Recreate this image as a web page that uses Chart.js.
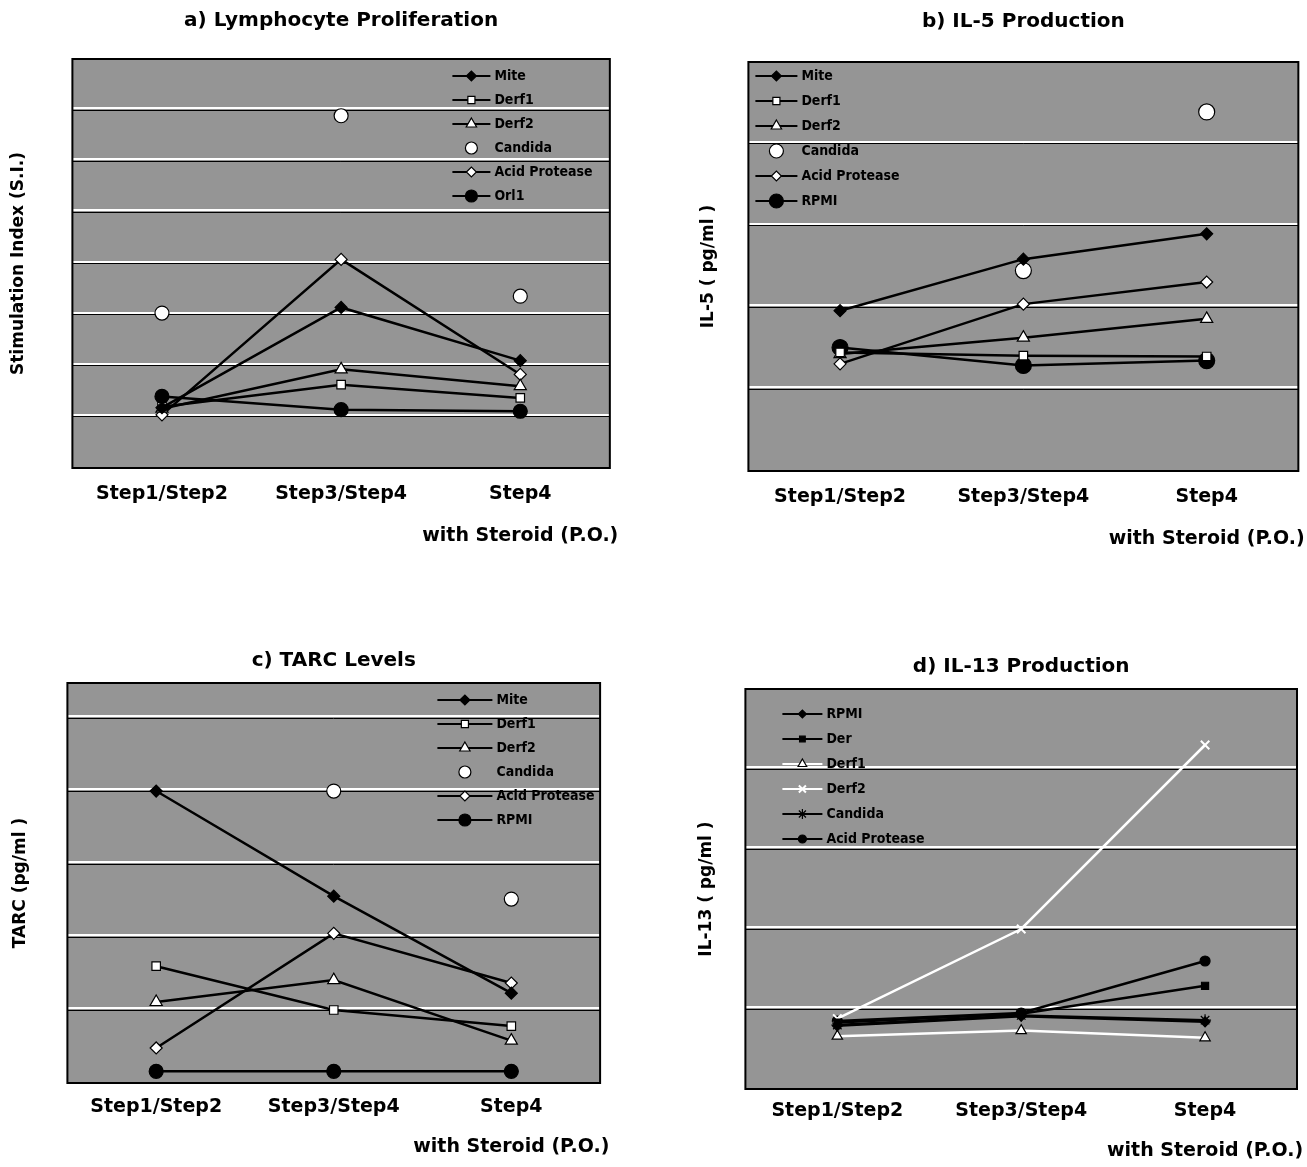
<!DOCTYPE html>
<html>
<head>
<meta charset="utf-8">
<script src="https://cdn.jsdelivr.net/npm/chart.js@4.4.1/dist/chart.umd.min.js"></script>
<style>
  html, body { margin: 0; padding: 0; background: #fff; overflow: hidden; }
  canvas { position: absolute; }
</style>
</head>
<body>
<canvas id="chartA" width="626" height="562" style="left:0;top:0"></canvas>
<canvas id="chartB" width="672" height="565" style="left:640px;top:0"></canvas>
<canvas id="chartC" width="616" height="541" style="left:0;top:630px"></canvas>
<canvas id="chartD" width="667" height="543" style="left:640px;top:630px"></canvas>
<script>
// categories (x axis)
var steps = ["Step1/Step2", "Step3/Step4", ["Step4", "with Steroid (P.O.)"]];

// a) Lymphocyte Proliferation - stimulation index
var lymMite    = [1.18, 3.14, 2.10];
var lymDerf1   = [1.20, 1.63, 1.37];
var lymDerf2   = [1.16, 1.93, 1.60];
var lymCandida = [3.03, 6.89, 3.36];
var lymAcid    = [1.04, 4.08, 1.83];
var lymOrl1    = [1.40, 1.14, 1.11];

// b) IL-5 Production
var il5Mite    = [1.96, 2.59, 2.90];
var il5Derf1   = [1.45, 1.41, 1.40];
var il5Derf2   = [1.43, 1.63, 1.86];
var il5Candida = [null, 2.45, 4.39];
var il5Acid    = [1.31, 2.04, 2.31];
var il5Rpmi    = [1.51, 1.29, 1.35];

// c) TARC Levels
var tarcMite    = [4.00, 2.56, 1.23];
var tarcDerf1   = [1.60, 1.00, 0.78];
var tarcDerf2   = [1.11, 1.41, 0.58];
var tarcCandida = [null, 4.00, 2.52];
var tarcAcid    = [0.48, 2.05, 1.37];
var tarcRpmi    = [0.16, 0.16, 0.16];

// d) IL-13 Production
var il13Rpmi    = [0.79, 0.91, 0.84];
var il13Der     = [0.83, 0.94, 1.29];
var il13Derf1   = [0.66, 0.73, 0.64];
var il13Derf2   = [0.88, 2.00, 4.30];
var il13Candida = [0.80, 0.92, 0.86];
var il13Acid    = [0.85, 0.95, 1.60];

// y axis ranges (no tick labels in the original)
var yMaxA = 8, yMaxB = 5, yMaxC = 5.48, yMaxD = 5;

var FONT = '"DejaVu Sans", "Liberation Sans", sans-serif';

function series(label, data, style, fill, radius, lineColor, showLine) {
  return {
    label: label,
    data: data,
    borderColor: lineColor || "#000",
    borderWidth: 2.5,
    showLine: showLine !== false,
    pointStyle: style,
    pointRadius: radius,
    pointHoverRadius: radius,
    pointBackgroundColor: fill,
    pointBorderColor: style === "crossRot" ? fill : "#000",
    pointBorderWidth: style === "crossRot" ? 2 : 1.2,
    tension: 0
  };
}

// gray plot background, white grid highlights and box
var plotBg = {
  id: "plotBg",
  beforeDraw: function (chart) {
    var a = chart.chartArea, ctx = chart.ctx;
    ctx.save();
    ctx.fillStyle = "#959595";
    ctx.fillRect(a.left, a.top, a.right - a.left, a.bottom - a.top);
    ctx.restore();
  },
  beforeDatasetsDraw: function (chart) {
    var a = chart.chartArea, ctx = chart.ctx, y = chart.scales.y;
    ctx.save();
    ctx.strokeStyle = "#fff";
    ctx.lineWidth = 2;
    y.ticks.forEach(function (t) {
      var py = Math.round(y.getPixelForValue(t.value)) - 2;
      if (py <= a.top + 2 || py >= a.bottom - 2) return;
      ctx.beginPath(); ctx.moveTo(a.left, py); ctx.lineTo(a.right, py); ctx.stroke();
    });
    ctx.strokeStyle = "#000";
    ctx.lineWidth = 2;
    ctx.strokeRect(a.left, a.top, a.right - a.left, a.bottom - a.top);
    ctx.restore();
  }
};

// legend drawn inside the plot box
var insideLegend = {
  id: "insideLegend",
  afterDraw: function (chart) {
    var o = chart.options.plugins.insideLegend;
    if (!o) return;
    var ctx = chart.ctx, a = chart.chartArea;
    ctx.save();
    ctx.font = 'bold 14px "DejaVu Sans Condensed", "DejaVu Sans", sans-serif';
    ctx.textBaseline = "middle";
    chart.data.datasets.forEach(function (ds, i) {
      var x = a.left + o.x, y = a.top + o.y + i * o.gap;
      if (ds.showLine) {
        ctx.strokeStyle = ds.borderColor;
        ctx.lineWidth = 2;
        ctx.beginPath(); ctx.moveTo(x, y); ctx.lineTo(x + o.len, y); ctx.stroke();
      }
      ctx.fillStyle = ds.pointBackgroundColor;
      ctx.strokeStyle = ds.pointBorderColor;
      ctx.lineWidth = ds.pointBorderWidth;
      Chart.helpers.drawPoint(ctx, {pointStyle: ds.pointStyle, radius: ds.pointRadius - 1, borderWidth: ds.pointBorderWidth, rotation: 0}, x + o.len / 2, y);
      ctx.fillStyle = "#000";
      ctx.fillText(ds.label, x + o.len + 4, y);
    });
    ctx.restore();
  }
};

function makeChart(id, c) {
  return new Chart(document.getElementById(id), {
    type: "line",
    data: { labels: steps, datasets: c.datasets },
    plugins: [plotBg, insideLegend],
    options: {
      responsive: false,
      animation: false,
      layout: { padding: { left: 0, right: 10, top: 0, bottom: 0 } },
      plugins: {
        legend: { display: false },
        tooltip: { enabled: false },
        title: {
          display: true,
          text: c.title,
          fullSize: false,
          color: "#000",
          font: { family: FONT, size: 20, weight: "bold" },
          padding: { top: c.titleTop, bottom: c.titleBottom }
        },
        insideLegend: c.legend
      },
      scales: {
        x: {
          offset: true,
          grid: { display: false, drawTicks: false },
          border: { display: false },
          ticks: {
            color: "#000",
            font: { family: FONT, size: 19, weight: "bold", lineHeight: c.lineH / 19 },
            padding: c.tickPad,
            maxRotation: 0,
            autoSkip: false
          }
        },
        y: {
          min: 0,
          max: c.yMax,
          grid: { color: "#000", lineWidth: 1, drawTicks: false },
          border: { display: false },
          ticks: { display: false, stepSize: 1, includeBounds: false },
          title: {
            display: true,
            text: c.yTitle,
            color: "#000",
            font: { family: FONT, size: 17, weight: "bold" },
            padding: { top: c.yTop, bottom: c.yBottom }
          }
        }
      }
    }
  });
}

makeChart("chartA", {
  title: "a) Lymphocyte Proliferation", titleTop: 9, titleBottom: 26,
  yTitle: "Stimulation Index (S.I.)", yTop: 8, yBottom: 44,
  yMax: yMaxA, tickPad: 5, lineH: 42,
  legend: { x: 380, y: 17, gap: 24, len: 38 },
  datasets: [
    series("Mite", lymMite, "rectRot", "#000", 6),
    series("Derf1", lymDerf1, "rect", "#fff", 6),
    series("Derf2", lymDerf2, "triangle", "#fff", 7),
    series("Candida", lymCandida, "circle", "#fff", 7, "#000", false),
    series("Acid Protease", lymAcid, "rectRot", "#fff", 6),
    series("Orl1", lymOrl1, "circle", "#000", 7)
  ]
});

makeChart("chartB", {
  title: "b) IL-5 Production", titleTop: 10, titleBottom: 28,
  yTitle: "IL-5 ( pg/ml )", yTop: 58, yBottom: 30,
  yMax: yMaxB, tickPad: 5, lineH: 42,
  legend: { x: 7, y: 14, gap: 25, len: 42 },
  datasets: [
    series("Mite", il5Mite, "rectRot", "#000", 6),
    series("Derf1", il5Derf1, "rect", "#fff", 6),
    series("Derf2", il5Derf2, "triangle", "#fff", 7),
    series("Candida", il5Candida, "circle", "#fff", 8, "#000", false),
    series("Acid Protease", il5Acid, "rectRot", "#fff", 6),
    series("RPMI", il5Rpmi, "circle", "#000", 8)
  ]
});

makeChart("chartC", {
  title: "c) TARC Levels", titleTop: 19, titleBottom: 10,
  yTitle: "TARC (pg/ml )", yTop: 10, yBottom: 37,
  yMax: yMaxC, tickPad: 4, lineH: 40,
  legend: { x: 370, y: 17, gap: 24, len: 55 },
  datasets: [
    series("Mite", tarcMite, "rectRot", "#000", 6),
    series("Derf1", tarcDerf1, "rect", "#fff", 6),
    series("Derf2", tarcDerf2, "triangle", "#fff", 7),
    series("Candida", tarcCandida, "circle", "#fff", 7, "#000", false),
    series("Acid Protease", tarcAcid, "rectRot", "#fff", 6),
    series("RPMI", tarcRpmi, "circle", "#000", 7)
  ]
});

makeChart("chartD", {
  title: "d) IL-13 Production", titleTop: 25, titleBottom: 10,
  yTitle: "IL-13 ( pg/ml )", yTop: 56, yBottom: 29,
  yMax: yMaxD, tickPad: 2, lineH: 40,
  legend: { x: 37, y: 25, gap: 25, len: 40 },
  datasets: [
    series("RPMI", il13Rpmi, "rectRot", "#000", 5),
    series("Der", il13Der, "rect", "#000", 5),
    series("Derf1", il13Derf1, "triangle", "#fff", 6, "#fff"),
    series("Derf2", il13Derf2, "crossRot", "#fff", 6, "#fff"),
    series("Candida", il13Candida, "star", "#000", 6),
    series("Acid Protease", il13Acid, "circle", "#000", 5)
  ]
});
</script>
</body>
</html>
